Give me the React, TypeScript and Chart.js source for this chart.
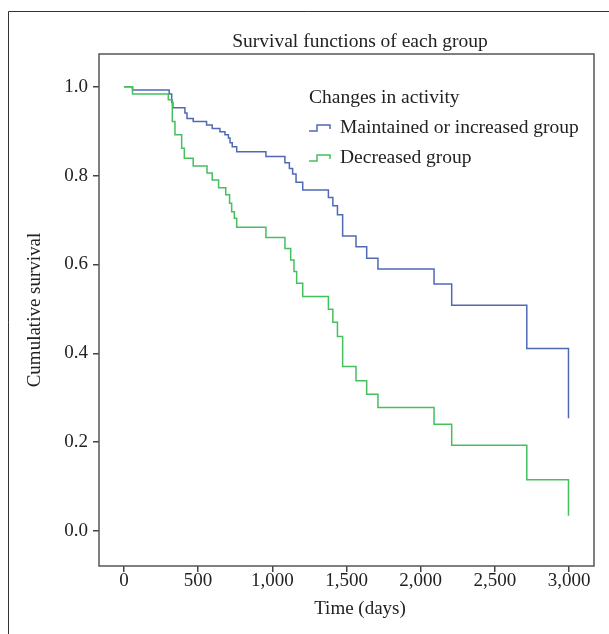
import React, { useEffect, useRef } from "react";
import { Chart, registerables } from "chart.js";

Chart.register(...registerables);

const chartTitle = "Survival functions of each group";
const xAxisTitle = "Time (days)";
const yAxisTitle = "Cumulative survival";
const legendTitle = "Changes in activity";
const seriesLabels = ["Maintained or increased group", "Decreased group"];

const maintainedDays = [0, 58, 305, 322, 330, 411, 425, 467, 557, 595, 647, 681, 704, 715, 730, 760, 957, 1085, 1115, 1137, 1160, 1205, 1378, 1408, 1439, 1474, 1564, 1636, 1712, 2090, 2209, 2715, 2996];
const maintainedSurvival = [1.0, 0.993, 0.984, 0.965, 0.953, 0.941, 0.929, 0.922, 0.914, 0.906, 0.899, 0.892, 0.885, 0.874, 0.865, 0.854, 0.843, 0.829, 0.816, 0.804, 0.785, 0.768, 0.751, 0.732, 0.712, 0.664, 0.64, 0.614, 0.59, 0.556, 0.508, 0.411, 0.254];

const decreasedDays = [0, 58, 299, 326, 344, 389, 407, 467, 560, 595, 638, 686, 712, 726, 744, 760, 957, 1085, 1124, 1146, 1164, 1205, 1378, 1408, 1439, 1474, 1564, 1636, 1712, 2090, 2209, 2715, 2996];
const decreasedSurvival = [1.0, 0.984, 0.971, 0.922, 0.892, 0.862, 0.839, 0.822, 0.806, 0.79, 0.773, 0.757, 0.738, 0.719, 0.704, 0.684, 0.661, 0.636, 0.61, 0.584, 0.558, 0.528, 0.499, 0.47, 0.438, 0.37, 0.338, 0.308, 0.278, 0.24, 0.193, 0.115, 0.034];

const xTicks = [0, 500, 1000, 1500, 2000, 2500, 3000];
const yTicks = [0, 0.2, 0.4, 0.6, 0.8, 1.0];

const FONT = '"Liberation Serif", "DejaVu Serif", serif';
const TEXT = "#222222";
const BLUE = "#5069b5";
const GREEN = "#44c05e";

const decor = {
  id: "decor",
  beforeDraw(chart: any) {
    const ctx = chart.ctx;
    ctx.save();
    ctx.fillStyle = "#ffffff";
    ctx.fillRect(0, 0, chart.width, chart.height);
    ctx.restore();
  },
  afterDraw(chart: any) {
    const ctx = chart.ctx;
    const a = chart.chartArea;
    ctx.save();
    // outer frame
    ctx.strokeStyle = "#333333";
    ctx.lineWidth = 1;
    ctx.beginPath();
    ctx.moveTo(8.5, chart.height);
    ctx.lineTo(8.5, 11.5);
    ctx.lineTo(chart.width, 11.5);
    ctx.stroke();
    // plot box
    ctx.strokeStyle = "#555555";
    ctx.lineWidth = 1.5;
    ctx.strokeRect(a.left, a.top, a.right - a.left, a.bottom - a.top);
    // texts
    ctx.fillStyle = TEXT;
    ctx.font = `19.5px ${FONT}`;
    ctx.textAlign = "center";
    ctx.textBaseline = "middle";
    ctx.fillText(chartTitle, 360, 42);
    ctx.font = `19px ${FONT}`;
    ctx.fillText(xAxisTitle, 360, 609);
    ctx.save();
    ctx.translate(35, 310);
    ctx.rotate(-Math.PI / 2);
    ctx.fillText(yAxisTitle, 0, 0);
    ctx.restore();
    // legend
    ctx.font = `19.5px ${FONT}`;
    ctx.textAlign = "left";
    ctx.fillText(legendTitle, 309, 98);
    chart.data.datasets.forEach((ds: any, i: number) => {
      const y = 128 + i * 30;
      ctx.strokeStyle = ds.borderColor;
      ctx.lineWidth = 1.5;
      ctx.beginPath();
      ctx.moveTo(309, y + 3);
      ctx.lineTo(317, y + 3);
      ctx.lineTo(317, y - 3);
      ctx.lineTo(330, y - 3);
      ctx.lineTo(330, y + 1);
      ctx.stroke();
      ctx.fillStyle = TEXT;
      ctx.fillText(ds.label, 340, y);
    });
    ctx.restore();
  },
};

export default function App() {
  const ref = useRef<HTMLCanvasElement | null>(null);

  useEffect(() => {
    document.body.style.margin = "0";
    const canvas = ref.current;
    if (!canvas) return;
    const chart = new Chart(canvas, {
      type: "line",
      data: {
        datasets: [
          {
            label: seriesLabels[0],
            data: maintainedDays.map((d, i) => ({ x: d, y: maintainedSurvival[i] })),
            borderColor: BLUE,
            borderWidth: 1.5,
            stepped: true,
            pointRadius: 0,
            fill: false,
            order: 1,
          },
          {
            label: seriesLabels[1],
            data: decreasedDays.map((d, i) => ({ x: d, y: decreasedSurvival[i] })),
            borderColor: GREEN,
            borderWidth: 1.5,
            stepped: true,
            pointRadius: 0,
            fill: false,
            order: 0,
          },
        ],
      },
      options: {
        responsive: false,
        animation: false,
        devicePixelRatio: 1,
        layout: { padding: { top: 54, right: 15, bottom: 0, left: 0 } },
        plugins: {
          legend: { display: false },
          title: { display: false },
          tooltip: { enabled: false },
        },
        scales: {
          x: {
            type: "linear",
            min: -168,
            max: 3168,
            afterBuildTicks: (s: any) => {
              s.ticks = xTicks.map((v) => ({ value: v }));
            },
            afterFit: (s: any) => {
              s.height = 68;
            },
            border: { display: false },
            grid: {
              display: true,
              drawOnChartArea: false,
              drawTicks: true,
              tickLength: 6,
              color: "#444444",
              lineWidth: 1.5,
            },
            ticks: {
              color: TEXT,
              font: { family: FONT, size: 19 },
              padding: -2,
              maxRotation: 0,
              autoSkip: false,
              callback: (v: any) => Number(v).toLocaleString("en-US"),
            },
          },
          y: {
            type: "linear",
            min: -0.079,
            max: 1.074,
            afterBuildTicks: (s: any) => {
              s.ticks = yTicks.map((v) => ({ value: v }));
            },
            afterFit: (s: any) => {
              s.width = 99;
            },
            border: { display: false },
            grid: {
              display: true,
              drawOnChartArea: false,
              drawTicks: true,
              tickLength: 6,
              color: "#444444",
              lineWidth: 1.5,
            },
            ticks: {
              color: TEXT,
              font: { family: FONT, size: 19 },
              padding: 5,
              autoSkip: false,
              callback: (v: any) => Number(v).toFixed(1),
            },
          },
        },
      },
      plugins: [decor],
    });
    return () => chart.destroy();
  }, []);

  return (
    <div style={{ width: 609, height: 634 }}>
      <canvas ref={ref} width={609} height={634} style={{ display: "block", width: 609, height: 634 }} />
    </div>
  );
}
